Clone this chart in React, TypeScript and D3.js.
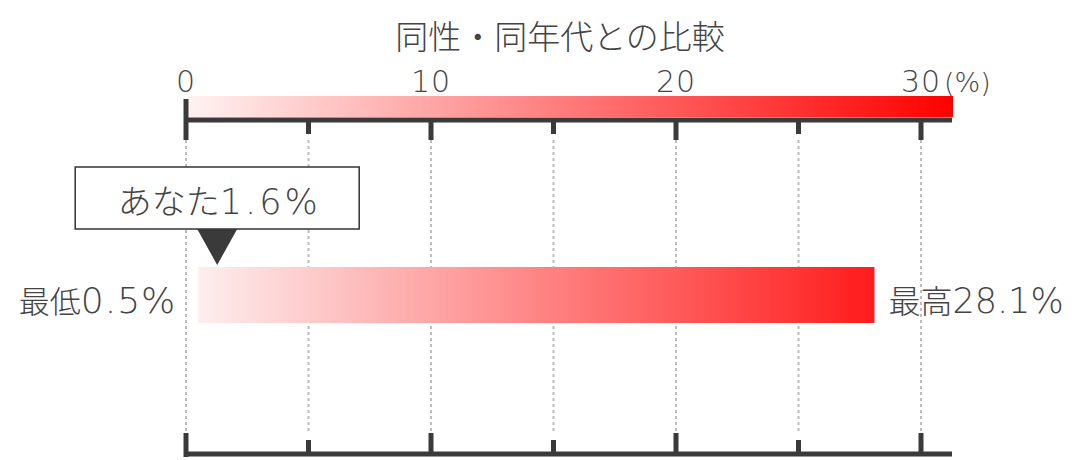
import { useEffect } from "react"
import * as d3 from "d3"

// chart values
const title = "同性・同年代との比較"
const tickValues = [0, 5, 10, 15, 20, 25, 30]
const labelValues = [0, 10, 20, 30]
const labelUnit = "(%)"
const minValue = 0.5
const maxValue = 28.1
const youValue = 1.6
const minLabel = "最低"
const maxLabel = "最高"
const youLabel = "あなた"

const W = 1087
const H = 460
const CJK = "'Noto Sans CJK JP', sans-serif"
const NUM = "'DejaVu Sans', 'Noto Sans CJK JP', sans-serif"
const INK = "#444"

export default function App() {
  useEffect(() => {
    document.body.style.margin = "0"
  }, [])

  const x = d3.scaleLinear().domain([0, 30]).range([186, 921])
  const axisEnd = x(30) + 31
  const topAxisY = 120
  const botAxisY = 454
  const barTop = 267
  const barBottom = 323
  const youX = x(youValue) - 8

  return (
    <svg width={W} height={H} style={{ display: "block" }}>
      <defs>
        <linearGradient id="scaleGrad" x1="0" x2="1" y1="0" y2="0">
          <stop offset="0%" stopColor="#fff2f2" />
          <stop offset="100%" stopColor="#ff0000" />
        </linearGradient>
        <linearGradient id="barGrad" x1="0" x2="1" y1="0" y2="0">
          <stop offset="0%" stopColor="#fdeeee" />
          <stop offset="100%" stopColor="#ff1c1c" />
        </linearGradient>
      </defs>

      <text x={560} y={49} textAnchor="middle" fontSize={33} fill={INK} fontWeight={300} fontFamily={CJK}>
        {title}
      </text>

      {/* dotted grid */}
      {tickValues.map((t) => (
        <line
          key={"g" + t}
          x1={x(t)}
          x2={x(t)}
          y1={140}
          y2={434}
          stroke="#bdbdbd"
          strokeWidth={2}
          strokeDasharray="3 3"
        />
      ))}

      {/* top colour scale */}
      <rect x={x(0) + 2} y={96} width={axisEnd - x(0) - 1} height={21} fill="url(#scaleGrad)" />

      {/* top axis */}
      <line x1={x(0)} x2={axisEnd} y1={topAxisY} y2={topAxisY} stroke="#3a3a3a" strokeWidth={5} />
      {tickValues.map((t) => (
        <line
          key={"t" + t}
          x1={x(t)}
          x2={x(t)}
          y1={t === 0 ? 99 : topAxisY}
          y2={t % 10 === 0 ? 140 : 134}
          stroke="#3a3a3a"
          strokeWidth={5}
        />
      ))}
      {labelValues.map((v) => (
        <text
          key={"l" + v}
          x={x(v)}
          y={92}
          textAnchor="middle"
          fontSize={30}
          fill={INK}
          fontWeight={200}
          fontFamily={NUM}
          letterSpacing={1}
        >
          {v}
        </text>
      ))}
      <text x={x(30) + 23} y={92} textAnchor="start" fontSize={27} fill={INK} fontWeight={200} fontFamily={NUM}>
        {labelUnit}
      </text>

      {/* bottom axis */}
      <line x1={x(0)} x2={axisEnd} y1={botAxisY} y2={botAxisY} stroke="#3a3a3a" strokeWidth={5} />
      {tickValues.map((t) => (
        <line
          key={"b" + t}
          x1={x(t)}
          x2={x(t)}
          y1={t % 10 === 0 ? 433 : 440}
          y2={t === 0 ? 457 : botAxisY}
          stroke="#3a3a3a"
          strokeWidth={5}
        />
      ))}

      {/* range bar */}
      <rect
        x={x(minValue)}
        y={barTop}
        width={x(maxValue) - x(minValue)}
        height={barBottom - barTop}
        fill="url(#barGrad)"
      />
      <text x={x(minValue) - 22} y={313} textAnchor="end" fill={INK}>
        <tspan fontFamily={CJK} fontSize={31} fontWeight={300}>{minLabel}</tspan>
        <tspan fontFamily={NUM} fontSize={36} fontWeight={200} letterSpacing={1}>{minValue + "%"}</tspan>
      </text>
      <text x={x(maxValue) + 14} y={313} textAnchor="start" fill={INK}>
        <tspan fontFamily={CJK} fontSize={32} fontWeight={300}>{maxLabel}</tspan>
        <tspan fontFamily={NUM} fontSize={35} fontWeight={200}>{maxValue + "%"}</tspan>
      </text>

      {/* you marker */}
      <rect x={youX - 142} y={167} width={284} height={62} fill="#fff" stroke="#333" strokeWidth={1.5} />
      <text x={youX + 2} y={214} textAnchor="middle" fill={INK}>
        <tspan fontFamily={CJK} fontSize={34} fontWeight={300}>{youLabel}</tspan>
        <tspan fontFamily={NUM} fontSize={35} fontWeight={200} letterSpacing={3}>{youValue + "%"}</tspan>
      </text>
      <path d={`M${youX - 20},229 L${youX + 20},229 L${youX},265 Z`} fill="#3a3a3a" />
    </svg>
  )
}
